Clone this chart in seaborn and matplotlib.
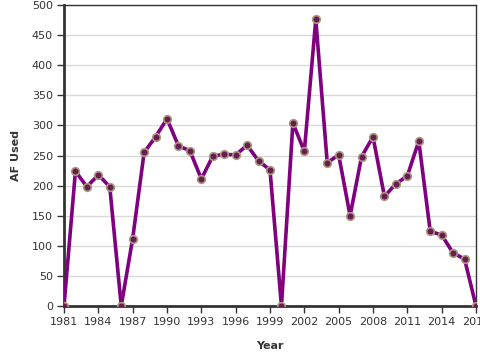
import matplotlib
matplotlib.use("Agg")
import matplotlib.pyplot as plt
import seaborn as sns
import pandas as pd

years = list(range(1981, 2018))
af_used = [0, 224, 198, 218, 198, 0, 112, 255, 281, 311, 266, 258, 211, 249, 252,
           251, 267, 241, 226, 0, 304, 257, 476, 238, 251, 150, 248, 281, 182, 203,
           216, 274, 124, 118, 88, 78, 0]
xticks = list(range(1981, 2018, 3))
yticks = list(range(0, 501, 50))

df = pd.DataFrame({"Year": years, "AF Used": af_used})

sns.set_theme(style="white")
fig = plt.figure(figsize=(4.8, 3.6), dpi=100)
ax = fig.add_axes([64/480, 1-306/360, 412/480, 301/360])

sns.lineplot(data=df, x="Year", y="AF Used", ax=ax, color="#800080", linewidth=2.6,
             marker="o", markersize=5.5, markerfacecolor="#6a1a55",
             markeredgecolor="#a89a7c", markeredgewidth=1.2, zorder=3)

ax.set_xlim(1981, 2017)
ax.set_ylim(0, 500)
ax.set_xticks(xticks)
ax.set_yticks(yticks)
ax.yaxis.grid(True, color="#d9d9d9", linewidth=1)
ax.set_axisbelow(True)
for s in ["left", "bottom"]:
    ax.spines[s].set_color("#333333")
    ax.spines[s].set_linewidth(2)
for s in ["top", "right"]:
    ax.spines[s].set_color("#333333")
    ax.spines[s].set_linewidth(1)
ax.tick_params(axis="both", which="both", length=5, width=1, color="#333333",
               labelsize=8, labelcolor="#333333", direction="out", pad=3,
               bottom=True, left=True)
ax.set_xlabel("Year", fontsize=8, fontweight="bold", color="#333333", labelpad=10)
ax.set_ylabel("AF Used", fontsize=8, fontweight="bold", color="#333333", labelpad=8)
for lbl in ax.get_xticklabels() + ax.get_yticklabels():
    lbl.set_clip_on(False)

fig.savefig("out.png", dpi=100)
